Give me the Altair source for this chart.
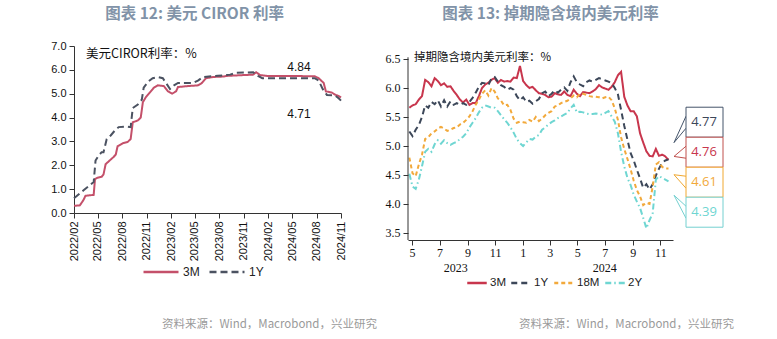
import altair as alt
import pandas as pd

# ---------------- 图表 12: 美元 CIROR 利率 (%) ----------------
ciror_3m_dates = [
    "2022-02-01", "2022-02-23", "2022-03-09", "2022-03-16", "2022-04-16", "2022-04-21",
    "2022-05-01", "2022-05-16", "2022-05-23", "2022-05-31", "2022-06-15", "2022-06-30",
    "2022-07-08", "2022-07-15", "2022-08-03", "2022-08-22", "2022-09-02", "2022-09-10",
    "2022-09-29", "2022-10-10", "2022-10-18", "2022-10-29", "2022-11-13", "2022-11-28",
    "2022-12-13", "2023-01-05", "2023-01-20", "2023-02-05", "2023-02-20", "2023-02-27",
    "2023-04-05", "2023-05-13", "2023-05-28", "2023-06-12", "2023-07-08", "2023-08-15",
    "2023-09-03", "2023-10-30", "2023-12-07", "2023-12-18", "2024-01-02", "2024-02-02",
    "2024-05-25", "2024-07-25", "2024-08-09", "2024-08-28", "2024-09-05", "2024-09-27",
    "2024-10-12", "2024-10-24", "2024-11-01",
]
ciror_3m = [
    0.30, 0.32, 0.55, 0.72, 0.76, 1.42,
    1.48, 1.52, 1.62, 2.05, 2.20, 2.35,
    2.45, 2.80, 2.92, 2.98, 3.10, 3.80,
    3.88, 4.00, 4.65, 4.85, 5.05, 5.25,
    5.35, 5.32, 5.10, 5.00, 5.10, 5.28,
    5.32, 5.35, 5.45, 5.65, 5.70, 5.72,
    5.75, 5.78, 5.80, 5.90, 5.78, 5.74,
    5.74, 5.73, 5.65, 5.45, 5.10, 5.05,
    4.95, 4.90, 4.84,
]
ciror_1y_dates = [
    "2022-02-01", "2022-03-09", "2022-03-31", "2022-04-16", "2022-04-23", "2022-05-04",
    "2022-05-16", "2022-05-23", "2022-06-04", "2022-06-19", "2022-07-04", "2022-07-19",
    "2022-08-22", "2022-09-02", "2022-09-10", "2022-09-29", "2022-10-14", "2022-10-21",
    "2022-11-06", "2022-11-24", "2022-12-13", "2023-01-01", "2023-01-13", "2023-01-28",
    "2023-02-12", "2023-02-27", "2023-04-24", "2023-05-13", "2023-06-01", "2023-07-27",
    "2023-09-11", "2023-10-03", "2023-12-07", "2023-12-25", "2024-01-10", "2024-07-25",
    "2024-08-09", "2024-08-24", "2024-09-09", "2024-10-09", "2024-10-24", "2024-11-01",
]
ciror_1y = [
    0.62, 0.95, 1.15, 1.30, 2.20, 2.40,
    2.55, 2.55, 3.10, 3.25, 3.45, 3.60,
    3.62, 3.60, 4.40, 4.55, 4.75, 5.25,
    5.50, 5.65, 5.70, 5.65, 5.45, 5.20,
    5.35, 5.45, 5.45, 5.55, 5.70, 5.75,
    5.80, 5.88, 5.90, 5.75, 5.65, 5.65,
    5.55, 5.20, 4.95, 4.93, 4.80, 4.71,
]
ciror_ticks = ["2022-02-01", "2022-05-01", "2022-08-01", "2022-11-01", "2023-02-01",
               "2023-05-01", "2023-08-01", "2023-11-01", "2024-02-01", "2024-05-01",
               "2024-08-01", "2024-11-01"]
ciror_yticks = [0, 1, 2, 3, 4, 5, 6, 7]

# ---------------- 图表 13: 掉期隐含境内美元利率 (%), weekly samples ----------------
swap_start = "2023-04-25"
swap_3m = [
    5.66, 5.70, 5.72, 5.80, 5.86, 6.14, 6.10, 6.03, 6.17, 6.12, 6.05, 6.08, 6.02, 6.03,
    5.95, 5.88, 5.80, 5.75, 5.80, 5.71, 5.74, 5.74, 5.86, 6.00, 6.06, 6.09, 6.14, 6.17,
    6.09, 6.14, 6.11, 6.12, 6.11, 6.18, 6.17, 6.38, 6.12, 6.05, 6.00, 6.02, 5.96, 5.91,
    5.90, 5.88, 5.84, 5.85, 5.91, 5.89, 5.88, 5.94, 5.88, 5.86, 5.97, 5.90, 5.86, 5.93,
    5.92, 5.91, 5.94, 5.98, 6.05, 6.01, 5.99, 5.97, 6.02, 6.10, 6.22, 6.28, 5.85, 5.70,
    5.60, 5.60, 5.51, 5.22, 5.06, 4.91, 4.83, 4.82, 4.95, 4.83, 4.85, 4.82, 4.76,
]
swap_1y = [
    5.25, 5.17, 5.28, 5.36, 5.50, 5.70, 5.66, 5.76, 5.72, 5.79, 5.68, 5.79, 5.68, 5.77,
    5.71, 5.74, 5.71, 5.74, 5.71, 5.76, 5.83, 5.92, 6.02, 6.09, 6.08, 6.05, 6.17, 6.19,
    6.11, 6.05, 6.02, 5.97, 6.00, 5.97, 5.86, 5.79, 5.84, 5.76, 5.78, 5.73, 5.77, 5.81,
    5.91, 5.94, 5.86, 5.90, 5.96, 5.92, 5.97, 6.01, 5.95, 6.10, 6.20, 6.10, 6.06, 6.03,
    6.10, 6.13, 6.11, 6.14, 6.17, 6.15, 6.13, 6.11, 6.08, 6.00, 5.89, 5.62, 5.35, 5.11,
    4.88, 4.75, 4.59, 4.44, 4.28, 4.34, 4.25, 4.34, 4.49, 4.61, 4.71, 4.75, 4.77,
]
swap_18m = [
    4.80, 4.53, 4.48, 4.68, 4.85, 5.12, 5.15, 5.22, 5.25, 5.30, 5.33, 5.30, 5.26, 5.28,
    5.31, 5.32, 5.37, 5.40, 5.45, 5.51, 5.60, 5.71, 5.80, 5.90, 5.96, 5.87, 6.00, 5.94,
    5.82, 5.78, 5.70, 5.71, 5.62, 5.47, 5.40, 5.42, 5.41, 5.40, 5.45, 5.42, 5.50, 5.43,
    5.47, 5.53, 5.57, 5.60, 5.68, 5.70, 5.74, 5.76, 5.78, 5.82, 5.87, 5.84, 5.90, 5.90,
    5.88, 5.86, 5.85, 5.85, 5.84, 5.82, 5.84, 5.85, 5.79, 5.65, 5.45, 5.15, 4.95, 4.78,
    4.60, 4.40, 4.24, 4.13, 3.98, 4.02, 4.00, 4.30, 4.68, 4.72, 4.64, 4.61, 4.61,
]
swap_2y = [
    4.52, 4.30, 4.26, 4.42, 4.65, 4.90, 4.95, 4.90, 5.03, 5.10, 5.04, 5.10, 5.05, 5.02,
    5.05, 5.07, 5.12, 5.16, 5.22, 5.32, 5.40, 5.48, 5.58, 5.66, 5.70, 5.68, 5.66, 5.66,
    5.60, 5.53, 5.46, 5.40, 5.32, 5.23, 5.12, 5.05, 5.00, 5.06, 5.12, 5.11, 5.16, 5.19,
    5.28, 5.32, 5.37, 5.41, 5.44, 5.48, 5.51, 5.54, 5.57, 5.65, 5.71, 5.58, 5.59, 5.58,
    5.56, 5.55, 5.55, 5.56, 5.55, 5.54, 5.57, 5.60, 5.51, 5.42, 5.22, 4.90, 4.65, 4.45,
    4.33, 4.16, 4.04, 3.93, 3.76, 3.58, 3.72, 3.84, 4.42, 4.48, 4.45, 4.42, 4.39,
]
swap_ticks = ["2023-05-01", "2023-07-01", "2023-09-01", "2023-11-01", "2024-01-01",
              "2024-03-01", "2024-05-01", "2024-07-01", "2024-09-01", "2024-11-01"]
swap_yticks = [3.5, 4.0, 4.5, 5.0, 5.5, 6.0, 6.5]
year_labels = ["2023", "2024"]
year_label_dates = ["2023-08-06", "2024-07-01"]
callout_order = ["1Y", "3M", "18M", "2Y"]

source_text = "资料来源：Wind，Macrobond，兴业研究"

# ---------------- styles ----------------
CJK = "Noto Sans CJK SC"
SANS = "Liberation Sans"
SERIF = "Liberation Serif"
TITLE_COLOR = "#8193a8"
AX_COLOR = "#333333"
left_series = ["3M", "1Y"]
left_colors = ["#c4506a", "#4b5261"]
left_dash = [[1, 0], [7, 4]]
right_series = ["3M", "1Y", "18M", "2Y"]
right_colors = ["#c8364d", "#3c4759", "#f2a93b", "#6fd6d2"]
right_dash = [[1, 0], [6, 4], [4, 3], [6, 3, 1.5, 3]]
box_colors = ["#44546a", "#c0504d", "#f0a830", "#74d0d0"]

W1, H1 = 267, 167
W2, H2 = 265, 194
RY_LO, RY_HI, RY_AXIS_TOP = 3.379, 6.724, 6.53


def ts(s):
    t = pd.Timestamp(s)
    return alt.DateTime(year=t.year, month=t.month, date=t.day)


def axis(values, **kw):
    base = dict(values=values, tickCount=len(values), domainColor=AX_COLOR, tickColor=AX_COLOR,
                tickSize=5, grid=False, labelColor="#111", labelOverlap=False,
                labelFlush=False, title=None)
    base.update(kw)
    return alt.Axis(**base)


# ---------------- left chart ----------------
left_df = pd.concat([
    pd.DataFrame({"date": pd.to_datetime(ciror_3m_dates), "value": ciror_3m, "series": "3M"}),
    pd.DataFrame({"date": pd.to_datetime(ciror_1y_dates), "value": ciror_1y, "series": "1Y"}),
])
lx = alt.Scale(domain=[ts(ciror_ticks[0]), ts(ciror_ticks[-1])])
ly = alt.Scale(domain=[0, 7], nice=False)
left_legend = alt.Legend(orient="none", legendX=68, legendY=207, direction="horizontal",
                         title=None, symbolType="stroke", symbolSize=1225, symbolStrokeWidth=2.5,
                         labelFont=SANS, labelFontSize=12, labelColor="#222", gridAlign="none",
                         columnPadding=4, labelOffset=3)

l_lines = alt.Chart(left_df).mark_line(strokeWidth=2).encode(
    x=alt.X("date:T", scale=lx, title=None,
            axis=axis([ts(d) for d in ciror_ticks], format="%Y/%m", labelAngle=-90,
                      labelFont=SANS, labelFontSize=11, labelPadding=3)),
    y=alt.Y("value:Q", scale=ly, title=None,
            axis=axis(ciror_yticks, format=".1f", labelFont=SANS, labelFontSize=11, labelPadding=3)),
    color=alt.Color("series:N", scale=alt.Scale(domain=left_series, range=left_colors), legend=left_legend),
    strokeDash=alt.StrokeDash("series:N", scale=alt.Scale(domain=left_series, range=left_dash), legend=left_legend),
)

left_end = pd.DataFrame({
    "date": pd.to_datetime([ciror_3m_dates[-1], ciror_1y_dates[-1]]),
    "value": [ciror_3m[-1], ciror_1y[-1]],
    "label": [f"{ciror_3m[-1]:.2f}", f"{ciror_1y[-1]:.2f}"],
})
l_end_hi = alt.Chart(left_end.iloc[[0]]).mark_text(dx=-42, dy=-31, font=SANS,
                                                   fontSize=12, color="#111").encode(
    x="date:T", y="value:Q", text="label:N")
l_end_lo = alt.Chart(left_end.iloc[[1]]).mark_text(dx=-42, dy=13, font=SANS,
                                                   fontSize=12, color="#111").encode(
    x="date:T", y="value:Q", text="label:N")

l_note = alt.Chart(pd.DataFrame({"t": ["美元CIROR利率：%"]})).mark_text(
    align="left", baseline="middle", font=CJK, fontSize=12.5, color="#111").encode(
    x=alt.value(12), y=alt.value(8), text="t:N")
l_src = alt.Chart(pd.DataFrame({"t": [source_text]})).mark_text(
    align="right", baseline="middle", font=CJK, fontSize=11.5, color="#9a9a9a").encode(
    x=alt.value(W1 + 36), y=alt.value(279), text="t:N")

left = alt.layer(l_lines, l_end_hi, l_end_lo, l_note, l_src).properties(
    width=W1, height=H1,
    title=alt.TitleParams("图表 12: 美元 CIROR 利率", font=CJK, fontSize=15.5, fontWeight="bold",
                          color=TITLE_COLOR, anchor="middle", frame="group", dx=-13, offset=18),
)

# ---------------- right chart ----------------
swap_dates = pd.date_range(swap_start, periods=len(swap_3m), freq="7D")
right_df = pd.concat([
    pd.DataFrame({"date": swap_dates, "value": vals, "series": name})
    for name, vals in zip(right_series, [swap_3m, swap_1y, swap_18m, swap_2y])
])
rx = alt.Scale(domain=[alt.DateTime(year=2023, month=4, date=22), alt.DateTime(year=2024, month=11, date=29)])
ry = alt.Scale(domain=[RY_LO, RY_HI], nice=False)
right_legend = alt.Legend(orient="none", legendX=58, legendY=226, direction="horizontal",
                          title=None, symbolType="stroke", symbolSize=380, symbolStrokeWidth=2.5,
                          labelFont=SANS, labelFontSize=11.5, labelColor="#222", gridAlign="none",
                          columnPadding=0, labelOffset=2)

r_lines = alt.Chart(right_df).mark_line(strokeWidth=2).encode(
    x=alt.X("date:T", scale=rx, title=None,
            axis=axis([ts(d) for d in swap_ticks], labelExpr="month(datum.value) + 1",
                      labelAngle=0, labelFont=SERIF, labelFontSize=12, labelPadding=2)),
    y=alt.Y("value:Q", scale=ry, title=None,
            axis=axis(swap_yticks, format=".1f", labelFont=SERIF, labelFontSize=12,
                      labelPadding=3, domain=False)),
    color=alt.Color("series:N", scale=alt.Scale(domain=right_series, range=right_colors), legend=right_legend),
    strokeDash=alt.StrokeDash("series:N", scale=alt.Scale(domain=right_series, range=right_dash), legend=right_legend),
    order=alt.Order("date:T"),
)

# y-axis line only up to the top of the value range
r_axisline = alt.Chart(pd.DataFrame({"lo": [RY_LO], "hi": [RY_AXIS_TOP]})).mark_rule(
    color=AX_COLOR, strokeWidth=1).encode(x=alt.value(0), y="lo:Q", y2="hi:Q")

years_df = pd.DataFrame({"date": pd.to_datetime(year_label_dates), "label": year_labels})
r_years = alt.Chart(years_df).mark_text(font=SERIF, fontSize=12, color="#111",
                                        baseline="middle").encode(
    x="date:T", y=alt.value(H2 + 28), text="label:N")

last_vals = {"3M": swap_3m[-1], "1Y": swap_1y[-1], "18M": swap_18m[-1], "2Y": swap_2y[-1]}
box_h = 30 / H2 * (RY_HI - RY_LO)
call_df = pd.DataFrame({
    "series": callout_order,
    "last": [last_vals[s] for s in callout_order],
})
call_df["label"] = [f"{v:.2f}" for v in call_df["last"]]
call_df["pos"] = [5.41 - k * box_h for k in range(len(callout_order))]
call_df["top"] = call_df["pos"] + box_h / 2
call_df["bot"] = call_df["pos"] - box_h / 2
call_df["tip"] = call_df["last"] + (call_df["pos"] - call_df["last"]) * 0.45
call_df["e1"] = call_df["pos"] + box_h * 0.2
call_df["e2"] = call_df["pos"] - box_h * 0.2

stroke_scale = alt.Scale(domain=callout_order, range=box_colors)
r_w1 = alt.Chart(call_df).mark_rule(strokeWidth=1).encode(
    x=alt.value(W2 + 1), x2=alt.value(W2 + 13), y="tip:Q", y2="e1:Q",
    stroke=alt.Stroke("series:N", scale=stroke_scale, legend=None))
r_w2 = alt.Chart(call_df).mark_rule(strokeWidth=1).encode(
    x=alt.value(W2 + 1), x2=alt.value(W2 + 13), y="tip:Q", y2="e2:Q",
    stroke=alt.Stroke("series:N", scale=stroke_scale, legend=None))
r_box = alt.Chart(call_df).mark_rect(fill="white", strokeWidth=1).encode(
    x=alt.value(W2 + 13), x2=alt.value(W2 + 50), y="top:Q", y2="bot:Q",
    stroke=alt.Stroke("series:N", scale=stroke_scale, legend=None))
r_lab = alt.Chart(call_df).mark_text(font="Open Sans", fontSize=13, baseline="middle").encode(
    x=alt.value(W2 + 31), y="pos:Q", text="label:N",
    color=alt.Color("series:N", scale=alt.Scale(domain=right_series, range=right_colors), legend=None))

r_note = alt.Chart(pd.DataFrame({"t": ["掉期隐含境内美元利率：%"]})).mark_text(
    align="left", baseline="middle", font=CJK, fontSize=11.5, color="#111").encode(
    x=alt.value(6), y=alt.value(12), text="t:N")
r_src = alt.Chart(pd.DataFrame({"t": [source_text]})).mark_text(
    align="right", baseline="middle", font=CJK, fontSize=11.5, color="#9a9a9a").encode(
    x=alt.value(W2 + 61), y=alt.value(279), text="t:N")

right = alt.layer(r_lines, r_axisline, r_years, r_w1, r_w2, r_box, r_lab, r_note, r_src).properties(
    width=W2, height=H2,
    title=alt.TitleParams("图表 13: 掉期隐含境内美元利率", font=CJK, fontSize=15.5, fontWeight="bold",
                          color=TITLE_COLOR, anchor="middle", frame="group", dx=10, offset=24),
)

chart = alt.hconcat(left, right, spacing=8).resolve_scale(
    color="independent", strokeDash="independent", stroke="independent",
).resolve_legend(
    color="independent", strokeDash="independent", stroke="independent",
).properties(
    padding={"left": 50, "top": 6, "right": 5, "bottom": 5},
    background="white",
).configure_view(stroke=None)

chart.save("out.html", embed_options={"renderer": "svg", "actions": False})
